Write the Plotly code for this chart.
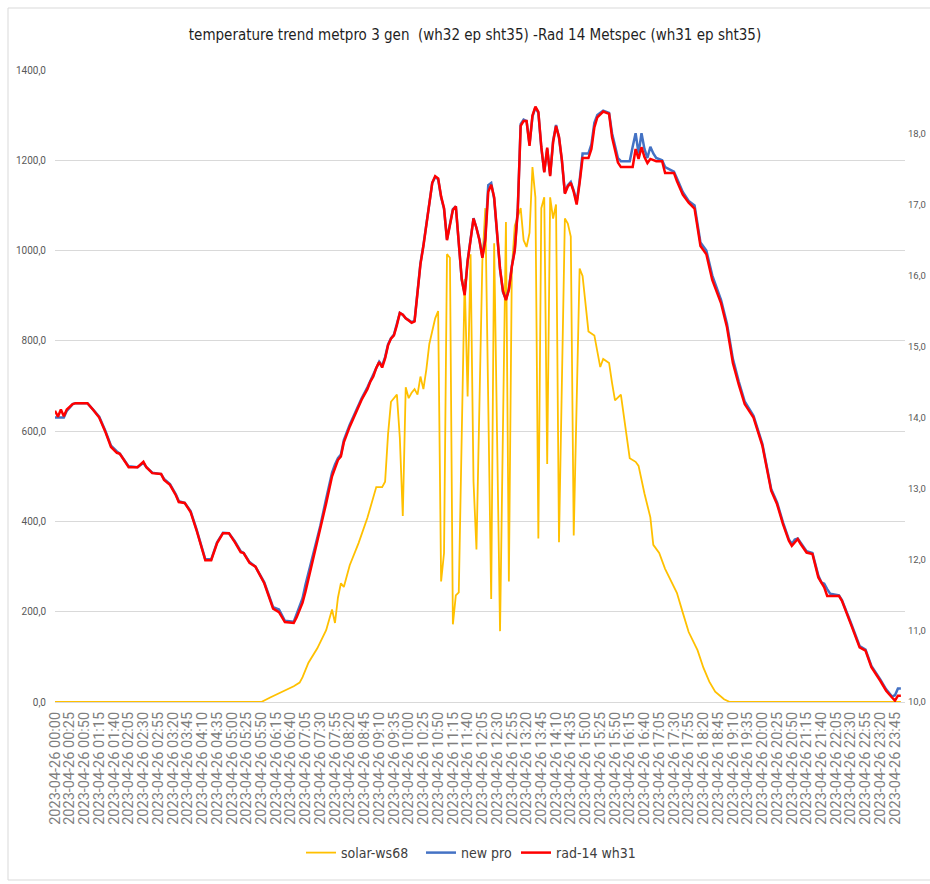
import plotly.graph_objects as go

DAY = "2023-04-26"

# ---- data ----
solar_t = ["00:00", "05:50", "06:05", "06:25", "06:45", "06:55", "07:00", "07:10", "07:25", "07:40",
           "07:50", "07:55", "08:00", "08:05", "08:10", "08:20", "08:35", "08:50", "09:00", "09:05",
           "09:15", "09:20", "09:25", "09:30", "09:40", "09:45", "09:50", "09:55", "10:00", "10:05",
           "10:10", "10:15", "10:20", "10:25", "10:30", "10:35", "10:45", "10:50", "10:55", "11:00",
           "11:05", "11:10", "11:15", "11:20", "11:25", "11:35", "11:40", "11:45", "11:50", "11:55",
           "12:05", "12:10", "12:20", "12:25", "12:35", "12:45", "12:50", "12:55", "13:00", "13:10",
           "13:15", "13:20", "13:25", "13:30", "13:35", "13:40", "13:45", "13:50", "13:55", "14:00",
           "14:05", "14:10", "14:15", "14:25", "14:30", "14:35", "14:40", "14:50", "14:55", "15:00",
           "15:05", "15:15", "15:20", "15:25", "15:30", "15:40", "15:45", "15:50", "16:00", "16:10",
           "16:15", "16:25", "16:30", "16:40", "16:50", "16:55", "17:05", "17:15", "17:20", "17:35",
           "17:45", "17:55", "18:10", "18:20", "18:30", "18:40", "18:55", "19:05", "23:55"]
solar_v = [0, 0, 10, 22, 35, 43, 55, 87, 119, 159,
           205, 175, 231, 263, 255, 303, 352, 408, 456, 476,
           476, 488, 593, 665, 681, 585, 412, 697, 673, 685,
           693, 681, 721, 693, 737, 793, 850, 866, 267, 330,
           992, 984, 172, 236, 243, 937, 677, 992, 488, 338,
           976, 1094, 228, 1016, 157, 1063, 267, 960, 1055, 1094,
           1023, 1008, 1039, 1185, 1118, 362, 1094, 1118, 527, 1118,
           1071, 1102, 354, 1071, 1060, 1031, 369, 960, 944, 883,
           821, 812, 777, 742, 760, 751, 707, 668, 681, 593,
           540, 532, 523, 462, 409, 348, 330, 295, 282, 242,
           198, 155, 115, 76, 45, 23, 6, 0, 0]

rad_t = ["00:00", "00:05", "00:10", "00:15", "00:20", "00:30", "00:35", "00:55", "01:05", "01:15",
         "01:25", "01:35", "01:45", "01:50", "02:05", "02:20", "02:30", "02:35", "02:45", "03:00",
         "03:05", "03:15", "03:25", "03:30", "03:40", "03:50", "04:00", "04:15", "04:25", "04:35",
         "04:45", "04:55", "05:05", "05:15", "05:20", "05:30", "05:40", "05:55", "06:10", "06:20",
         "06:30", "06:45", "06:50", "07:00", "07:05", "07:15", "07:25", "07:30", "07:40", "07:50",
         "07:55", "08:00", "08:05", "08:10", "08:20", "08:30", "08:40", "08:50", "08:55", "09:00",
         "09:05", "09:10", "09:15", "09:20", "09:25", "09:30", "09:35", "09:40", "09:45", "09:50",
         "09:55", "10:00", "10:05", "10:10", "10:15", "10:20", "10:25", "10:30", "10:35", "10:40",
         "10:45", "10:50", "10:55", "11:00", "11:05", "11:10", "11:15", "11:20", "11:25", "11:30",
         "11:35", "11:40", "11:45", "11:50", "11:55", "12:00", "12:05", "12:10", "12:15", "12:20",
         "12:25", "12:30", "12:35", "12:40", "12:45", "12:50", "12:55", "13:00", "13:05", "13:10",
         "13:15", "13:20", "13:25", "13:30", "13:35", "13:40", "13:45", "13:50", "13:55", "14:00",
         "14:05", "14:10", "14:15", "14:20", "14:25", "14:30", "14:35", "14:40", "14:45", "14:50",
         "14:55", "15:05", "15:10", "15:15", "15:20", "15:30", "15:40", "15:45", "15:50", "15:55",
         "16:00", "16:20", "16:25", "16:30", "16:35", "16:40", "16:45", "16:50", "17:00", "17:10",
         "17:15", "17:30", "17:35", "17:45", "17:55", "18:05", "18:15", "18:25", "18:35", "18:50",
         "19:00", "19:10", "19:20", "19:30", "19:45", "20:00", "20:15", "20:25", "20:35", "20:45",
         "20:50", "21:00", "21:05", "21:15", "21:25", "21:35", "21:45", "21:50", "22:10", "22:15",
         "22:30", "22:45", "22:55", "23:05", "23:20", "23:30", "23:40", "23:45", "23:50", "23:55"]
rad_v = [645, 632, 648, 633, 648, 660, 662, 662, 647, 630,
         600, 565, 552, 550, 520, 520, 532, 520, 507, 505,
         492, 481, 458, 443, 441, 421, 381, 314, 314, 352,
         374, 374, 354, 332, 330, 308, 300, 263, 207, 199,
         177, 175, 188, 220, 245, 300, 352, 380, 440, 500,
         520, 536, 544, 575, 610, 640, 669, 693, 710, 721,
         740, 753, 741, 761, 790, 805, 812, 835, 862, 858,
         850, 845, 840, 843, 900, 970, 1010, 1060, 1110, 1150,
         1165, 1160, 1120, 1094, 1023, 1060, 1090, 1098, 1023, 937,
         901, 976, 1023, 1071, 1050, 1023, 984, 1023, 1130, 1146,
         1118, 1031, 960, 910, 890, 913, 964, 1000, 1087, 1276,
         1287, 1287, 1232, 1299, 1319, 1307, 1230, 1173, 1228, 1165,
         1240, 1276, 1252, 1200, 1126, 1142, 1150, 1130, 1102, 1150,
         1205, 1205, 1225, 1273, 1295, 1308, 1303, 1251, 1220, 1195,
         1185, 1185, 1225, 1203, 1229, 1207, 1194, 1203, 1198, 1198,
         1172, 1172, 1154, 1124, 1106, 1093, 1010, 992, 935, 883,
         830, 751, 703, 660, 630, 568, 468, 438, 394, 357,
         346, 361, 350, 331, 328, 276, 254, 235, 235, 224,
         173, 121, 114, 77, 47, 25, 10, 3, 14, 14]

pro_t = ["00:00", "00:15", "00:20", "00:30", "00:35", "00:55", "01:05", "01:15", "01:25", "01:35",
         "01:45", "01:50", "02:05", "02:20", "02:30", "02:35", "02:45", "03:00", "03:05", "03:15",
         "03:25", "03:30", "03:40", "03:50", "04:00", "04:15", "04:25", "04:35", "04:45", "04:55",
         "05:05", "05:15", "05:20", "05:30", "05:40", "05:55", "06:10", "06:20", "06:30", "06:45",
         "06:50", "07:00", "07:05", "07:15", "07:25", "07:30", "07:40", "07:50", "07:55", "08:00",
         "08:05", "08:10", "08:20", "08:30", "08:40", "08:50", "08:55", "09:00", "09:05", "09:10",
         "09:15", "09:20", "09:25", "09:30", "09:35", "09:40", "09:45", "09:50", "09:55", "10:00",
         "10:05", "10:10", "10:15", "10:20", "10:25", "10:30", "10:35", "10:40", "10:45", "10:50",
         "10:55", "11:00", "11:05", "11:10", "11:15", "11:20", "11:25", "11:30", "11:35", "11:40",
         "11:45", "11:50", "11:55", "12:00", "12:05", "12:10", "12:15", "12:20", "12:25", "12:30",
         "12:35", "12:40", "12:45", "12:50", "12:55", "13:00", "13:05", "13:10", "13:15", "13:20",
         "13:25", "13:30", "13:35", "13:40", "13:45", "13:50", "13:55", "14:00", "14:05", "14:10",
         "14:15", "14:20", "14:25", "14:30", "14:35", "14:40", "14:45", "14:50", "14:55", "15:05",
         "15:10", "15:15", "15:20", "15:30", "15:40", "15:45", "15:50", "15:55", "16:00", "16:15",
         "16:20", "16:25", "16:30", "16:35", "16:40", "16:45", "16:50", "16:55", "17:00", "17:10",
         "17:15", "17:30", "17:35", "17:45", "17:55", "18:05", "18:15", "18:25", "18:35", "18:50",
         "19:00", "19:10", "19:20", "19:30", "19:45", "20:00", "20:15", "20:25", "20:35", "20:45",
         "20:50", "20:55", "21:00", "21:05", "21:15", "21:25", "21:35", "21:40", "21:45", "21:50",
         "21:55", "22:10", "22:15", "22:30", "22:45", "22:55", "23:05", "23:20", "23:30", "23:40",
         "23:45", "23:50", "23:55"]
pro_v = [630, 630, 645, 660, 662, 662, 647, 632, 602, 568,
         555, 550, 522, 520, 530, 520, 508, 505, 494, 483,
         460, 445, 441, 423, 383, 316, 316, 354, 375, 374,
         356, 334, 330, 310, 300, 265, 210, 205, 180, 178,
         195, 230, 260, 310, 362, 390, 450, 508, 526, 540,
         548, 580, 614, 644, 672, 697, 712, 724, 743, 754,
         745, 764, 792, 806, 814, 838, 862, 858, 850, 846,
         841, 845, 905, 972, 1012, 1062, 1112, 1150, 1163, 1158,
         1118, 1092, 1025, 1062, 1092, 1098, 1020, 935, 905, 978,
         1025, 1072, 1050, 1025, 986, 1030, 1145, 1150, 1115, 1030,
         958, 908, 892, 915, 966, 1003, 1090, 1280, 1290, 1287,
         1236, 1297, 1317, 1305, 1228, 1175, 1225, 1168, 1243, 1278,
         1250, 1198, 1128, 1145, 1152, 1133, 1108, 1155, 1215, 1215,
         1235, 1283, 1300, 1310, 1305, 1260, 1230, 1205, 1198, 1198,
         1230, 1260, 1215, 1260, 1225, 1205, 1230, 1215, 1205, 1200,
         1185, 1175, 1160, 1130, 1110, 1100, 1018, 1000, 945, 890,
         838, 760, 710, 666, 634, 572, 472, 442, 398, 360,
         350, 360, 362, 352, 334, 330, 280, 265, 262, 250,
         240, 236, 226, 176, 124, 116, 80, 50, 28, 12,
         15, 30, 30]

tick_times = []
for m in range(0, 24 * 60, 25):
    tick_times.append(f"{m // 60:02d}:{m % 60:02d}")
tick_vals = [f"{DAY} {t}" for t in tick_times]
tick_text = [f"{DAY} {t}" for t in tick_times]


def stamp(ts):
    return [f"{DAY} {t}" for t in ts]


LABEL_FONT = dict(family="Roboto, Liberation Sans, sans-serif", size=10, color="#595959")
NARROW = "Liberation Sans Narrow, DejaVu Sans Condensed, Arial Narrow, sans-serif"

fig = go.Figure()
fig.add_trace(go.Scatter(x=stamp(solar_t), y=solar_v, name="solar-ws68", mode="lines",
                         line=dict(color="#FFC000", width=1.8), legend="legend"))
fig.add_trace(go.Scatter(x=stamp(pro_t), y=pro_v, name="new pro", mode="lines",
                         line=dict(color="#4472C4", width=2.5), legend="legend2"))
fig.add_trace(go.Scatter(x=stamp(rad_t), y=rad_v, name="rad-14 wh31", mode="lines",
                         line=dict(color="#FF0000", width=2.5), legend="legend3"))
fig.add_trace(go.Scatter(x=[], y=[], yaxis="y2", showlegend=False, hoverinfo="skip"))

LEG_Y = (702 - 853) / 632
LEG_FONT = dict(family=NARROW, size=14, color="#404040")


def leg(left_px):
    return dict(orientation="h", x=(left_px - 55) / 850, xanchor="left", y=LEG_Y,
                yanchor="middle", font=LEG_FONT, bgcolor="rgba(0,0,0,0)")


fig.update_layout(
    width=930, height=884,
    margin=dict(l=55, r=25, t=70, b=182),
    paper_bgcolor="white", plot_bgcolor="white",
    separators=", ",
    title=dict(text="temperature trend metpro 3 gen  (wh32 ep sht35) -Rad 14 Metspec (wh31 ep sht35)",
               x=(475 - 55) / 850, xref="paper", xanchor="center", y=1 - 35 / 884, yanchor="middle",
               font=dict(family=NARROW, size=15, color="#1f1f1f")),
    showlegend=True,
    legend=leg(301),
    legend2=leg(421),
    legend3=leg(516),
    xaxis=dict(type="date", range=[f"{DAY} 00:00", "2023-04-27 00:02"],
               tickmode="array", tickvals=tick_vals, ticktext=tick_text, tickangle=-90,
               tickfont=dict(family="Roboto, Liberation Sans, sans-serif", size=14.5, color="#7f7f7f"),
               showgrid=False, zeroline=False, showline=False, ticks="", ticklabelstandoff=6,
               automargin=False),
    yaxis=dict(range=[0, 1400], dtick=200, tickformat=".1f", tickfont=LABEL_FONT,
               showgrid=True, gridcolor="#D9D9D9", gridwidth=1,
               zeroline=True, zerolinecolor="#D9D9D9", zerolinewidth=1,
               showline=False, ticks="", ticklabelstandoff=8, automargin=False),
    yaxis2=dict(range=[10, 18.89], dtick=1, tickformat=".1f",
                tickfont=dict(family="Roboto, Liberation Sans, sans-serif", size=9.5, color="#595959"),
                overlaying="y", side="right", anchor="x", showgrid=False, zeroline=False,
                showline=False, ticks="", ticklabelstandoff=2, automargin=False),
)

fig.add_shape(type="rect", xref="paper", yref="paper",
              x0=(8 - 55) / 850, x1=(940 - 55) / 850, y0=(702 - 880) / 632, y1=(702 - 8) / 632,
              line=dict(color="#D9D9D9", width=1), fillcolor="rgba(0,0,0,0)", layer="below")

fig.write_html("out.html", config={"displayModeBar": False},
               post_script="document.body.style.margin='0';")
